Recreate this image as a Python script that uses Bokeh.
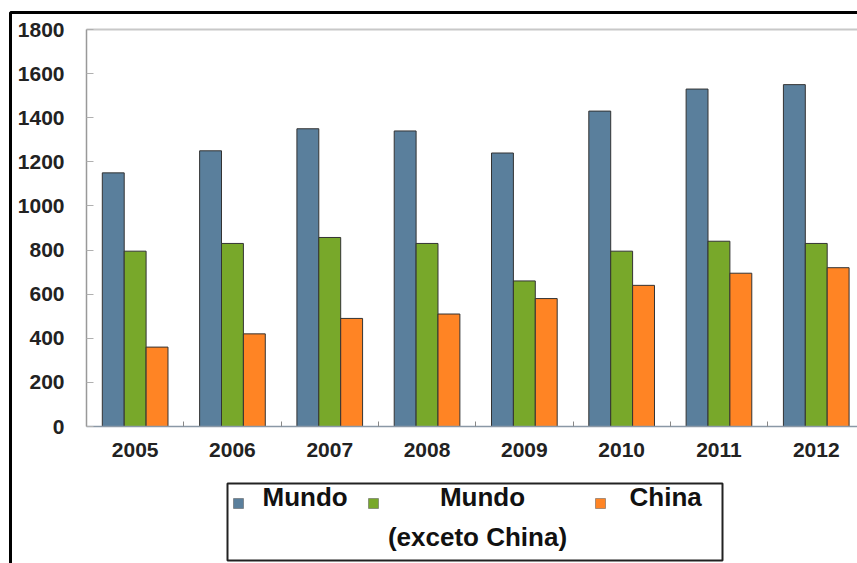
from bokeh.plotting import figure
from bokeh.models import (Range1d, FixedTicker, Label, BoxAnnotation)
from bokeh.embed import file_html
from bokeh.resources import INLINE

# Production by year (Mundo, Mundo sem China, China)
years = ["2005", "2006", "2007", "2008", "2009", "2010", "2011", "2012"]
mundo = [1150, 1250, 1350, 1340, 1240, 1430, 1530, 1550]
mundo_exceto_china = [795, 830, 857, 830, 660, 795, 840, 830]
china = [360, 420, 490, 510, 580, 640, 695, 720]

series_names = ["Mundo", "Mundo\n(exceto China)", "China"]
colors = ["#5a7f9c", "#78a82a", "#ff8424"]
y_ticks = [0, 200, 400, 600, 800, 1000, 1200, 1400, 1600, 1800]
y_max = 1800

FONT = "Liberation Sans"
W, H = 857, 563

# plot area in canvas pixels: axes cross at (AX, AY), top of value scale at TOPY
AX, AY, TOPY = 86, 426, 29
CAT_PX = 97.3  # pixels per year group

n = len(years)
units_per_px = y_max / (AY - TOPY)
y_start = -(H - AY) * units_per_px
y_end = y_max + TOPY * units_per_px
x_start = -AX / CAT_PX
x_end = (W - AX) / CAT_PX

p = figure(width=W, height=H, output_backend="svg", toolbar_location=None,
           x_range=Range1d(x_start, x_end), y_range=Range1d(y_start, y_end),
           min_border=0)
p.outline_line_color = None
p.grid.visible = False
p.background_fill_color = "white"
p.border_fill_color = "white"

# grouped bars
bw = 0.225
centers = [i + 0.5 for i in range(n)]
for k, (vals, col) in enumerate(zip([mundo, mundo_exceto_china, china], colors)):
    off = (k - 1) * bw
    p.vbar(x=[c + off for c in centers], top=vals, width=bw, bottom=0,
           fill_color=col, line_color="#333333", line_width=1)

# light top edge of the plot area
p.segment(x0=[0], y0=[y_max], x1=[x_end], y1=[y_max], line_color="#c8c8c8", line_width=2)

# x axis: labels at group centres, small ticks between groups
xa = p.xaxis[0]
xa.fixed_location = 0
xa.bounds = (0, x_end)
xa.ticker = FixedTicker(ticks=centers, minor_ticks=list(range(1, n)))
xa.major_label_overrides = {c: y for c, y in zip(centers, years)}
xa.major_tick_in = 0
xa.major_tick_out = 0
xa.minor_tick_in = 5
xa.minor_tick_out = 0
xa.minor_tick_line_color = "#888888"
xa.axis_line_color = "#8a98a6"
xa.axis_line_width = 1.5
xa.major_label_standoff = 16
xa.major_label_text_font = FONT
xa.major_label_text_font_style = "bold"
xa.major_label_text_font_size = "21px"
xa.major_label_text_color = "#222222"

# y axis
ya = p.yaxis[0]
ya.fixed_location = 0
ya.bounds = (0, y_max)
ya.ticker = FixedTicker(ticks=y_ticks)
ya.minor_tick_line_color = None
ya.major_tick_in = 7
ya.major_tick_out = 0
ya.major_tick_line_color = "#b0b0b0"
ya.axis_line_color = "#999999"
ya.axis_line_width = 1.5
ya.major_label_standoff = 22
ya.major_label_text_font = FONT
ya.major_label_text_font_style = "bold"
ya.major_label_text_font_size = "21px"
ya.major_label_text_color = "#222222"


# canvas pixels (origin top-left) -> screen units (origin bottom-left)
def sy(y):
    return H - y


SCREEN = dict(left_units="screen", right_units="screen",
              top_units="screen", bottom_units="screen")

# outer black frame (left and top edges visible)
p.add_layout(BoxAnnotation(left=10, right=W + 40, top=sy(12), bottom=sy(H + 40),
                           fill_color=None, line_color="black", line_alpha=1.0,
                           line_width=3, **SCREEN))

# legend box
p.add_layout(BoxAnnotation(left=227, right=722, top=sy(483), bottom=sy(560),
                           fill_color=None, line_color="#222222", line_alpha=1.0,
                           line_width=2, **SCREEN))

swatch_x = [233, 368, 595]
for sxp, col in zip(swatch_x, colors):
    p.add_layout(BoxAnnotation(left=sxp, right=sxp + 10, top=sy(498), bottom=sy(508),
                               fill_color=col, fill_alpha=1.0, line_color="#555555",
                               line_alpha=1.0, line_width=0.5, **SCREEN))


def legend_text(x, y, text, align="left"):
    p.add_layout(Label(x=x, y=sy(y), x_units="screen", y_units="screen", text=text,
                       text_font=FONT, text_font_style="bold", text_font_size="26px",
                       text_color="#111111", text_align=align, text_baseline="middle"))


legend_text(262, 496, series_names[0])
first, second = series_names[1].split("\n")
legend_text(482, 496, first, "center")
legend_text(477, 536, second, "center")
legend_text(629, 496, series_names[2])

open("out.html", "w").write(file_html(p, INLINE))
